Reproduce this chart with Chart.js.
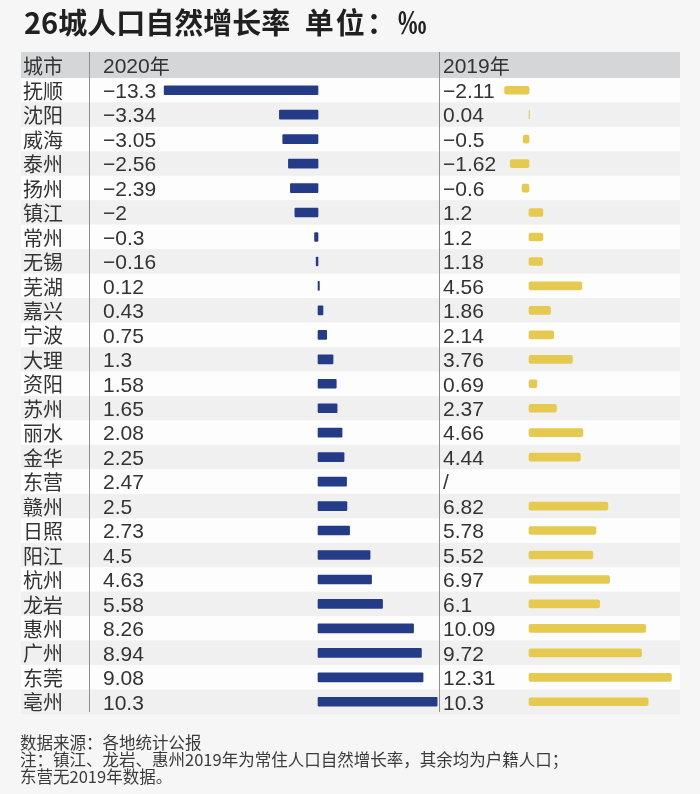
<!DOCTYPE html>
<html>
<head>
<meta charset="utf-8">
<script src="https://cdn.jsdelivr.net/npm/chart.js@4/dist/chart.umd.min.js"></script>
<style>
  html, body { margin: 0; padding: 0; background: #f6f6f6; }
  #wrap { position: relative; width: 700px; height: 794px; overflow: hidden; }
  #chart { position: absolute; left: 0; top: 0; }
  #title { position: absolute; left: 24px; top: 6px; font-family: "Noto Sans CJK SC", sans-serif; font-size: 29px; line-height: 30px; font-weight: bold; color: #202020; white-space: nowrap; word-spacing: 8px; }
  #title .u { letter-spacing: 2px; }
  #notes { position: absolute; left: 20px; top: 734px; font-family: "Noto Sans CJK SC", sans-serif; font-size: 16.5px; line-height: 17px; color: #3a3a3a; white-space: nowrap; }
</style>
</head>
<body>
<div id="wrap">
  <canvas id="chart" width="700" height="794"></canvas>
  <div id="title">26城人口自然增长率 <span class="u">单位：</span>‰</div>
  <div id="notes">数据来源：各地统计公报<br>注：镇江、龙岩、惠州2019年为常住人口自然增长率，其余均为户籍人口；<br>东营无2019年数据。</div>
</div>
<script>
const cities = ['抚顺','沈阳','威海','泰州','扬州','镇江','常州','无锡','芜湖','嘉兴','宁波','大理','资阳','苏州','丽水','金华','东营','赣州','日照','阳江','杭州','龙岩','惠州','广州','东莞','亳州'];
const growth2020 = [-13.3, -3.34, -3.05, -2.56, -2.39, -2, -0.3, -0.16, 0.12, 0.43, 0.75, 1.3, 1.58, 1.65, 2.08, 2.25, 2.47, 2.5, 2.73, 4.5, 4.63, 5.58, 8.26, 8.94, 9.08, 10.3];
const growth2019 = [-2.11, 0.04, -0.5, -1.62, -0.6, 1.2, 1.2, 1.18, 4.56, 1.86, 2.14, 3.76, 0.69, 2.37, 4.66, 4.44, null, 6.82, 5.78, 5.52, 6.97, 6.1, 10.09, 9.72, 12.31, 10.3];
const headers = ['城市', '2020年', '2019年'];

const fmt = v => v === null ? '/' : String(v).replace('-', '\u2212');

const tablePlugin = {
  id: 'tablePlugin',
  beforeDatasetsDraw(chart) {
    const ctx = chart.ctx;
    const ys = chart.scales.y;
    const area = chart.chartArea;
    const half = (ys.bottom - ys.top) / cities.length / 2;
    ctx.save();
    ctx.fillStyle = '#d4d6d8';
    ctx.fillRect(21, 52, 659, area.top - 52);
    cities.forEach((c, i) => {
      const y = ys.getPixelForValue(i);
      ctx.fillStyle = (i % 2 === 1) ? '#f0f0f0' : '#fdfdfd';
      ctx.fillRect(21, y - half, 659, half * 2);
    });
    ctx.strokeStyle = '#8e8e8e';
    ctx.lineWidth = 1;
    [89.5, 439.5].forEach(x => {
      ctx.beginPath();
      ctx.moveTo(x, 52);
      ctx.lineTo(x, area.bottom - 2);
      ctx.stroke();
    });
    ctx.restore();
  },
  afterDatasetsDraw(chart) {
    const ctx = chart.ctx;
    const ys = chart.scales.y;
    const area = chart.chartArea;
    ctx.save();
    ctx.textBaseline = 'middle';
    ctx.textAlign = 'left';
    ctx.fillStyle = '#333333';
    const cjk = '20px "Noto Sans CJK SC", sans-serif';
    const num = '21px "Liberation Sans", "Noto Sans CJK SC", sans-serif';
    const hy = (52 + area.top) / 2 + 1;
    ctx.font = cjk;
    ctx.fillText(headers[0], 23, hy);
    ctx.font = num;
    ctx.fillText('2020', 103, hy + 1);
    ctx.fillText('2019', 443, hy + 1);
    const w = ctx.measureText('2020').width;
    ctx.font = cjk;
    ctx.fillText('年', 103 + w, hy);
    ctx.fillText('年', 443 + w, hy);
    cities.forEach((c, i) => {
      const y = ys.getPixelForValue(i) + 1;
      ctx.font = cjk;
      ctx.fillText(c, 23, y);
      ctx.font = num;
      ctx.fillText(fmt(growth2020[i]), 103, y + 1);
      ctx.fillText(fmt(growth2019[i]), 443, y + 1);
    });
    ctx.restore();
  }
};

new Chart(document.getElementById('chart'), {
  type: 'bar',
  data: {
    labels: cities,
    datasets: [
      { label: '2020年', data: growth2020, xAxisID: 'x1', grouped: false, barThickness: 9, backgroundColor: '#243c88', borderRadius: 1, borderSkipped: false },
      { label: '2019年', data: growth2019, xAxisID: 'x2', grouped: false, barThickness: 8, backgroundColor: '#e6c94f', borderRadius: 2, borderSkipped: false }
    ]
  },
  options: {
    indexAxis: 'y',
    responsive: false,
    animation: false,
    devicePixelRatio: 1,
    layout: { padding: { left: 20, right: 20, top: 78, bottom: 80 } },
    plugins: { legend: { display: false }, tooltip: { enabled: false }, title: { display: false } },
    scales: {
      y: { type: 'category', display: false, offset: true },
      x1: { type: 'linear', display: false, min: -25.76, max: 31.29 },
      x2: { type: 'linear', display: false, min: -43.99, max: 13.05 }
    }
  },
  plugins: [tablePlugin]
});
</script>
</body>
</html>
